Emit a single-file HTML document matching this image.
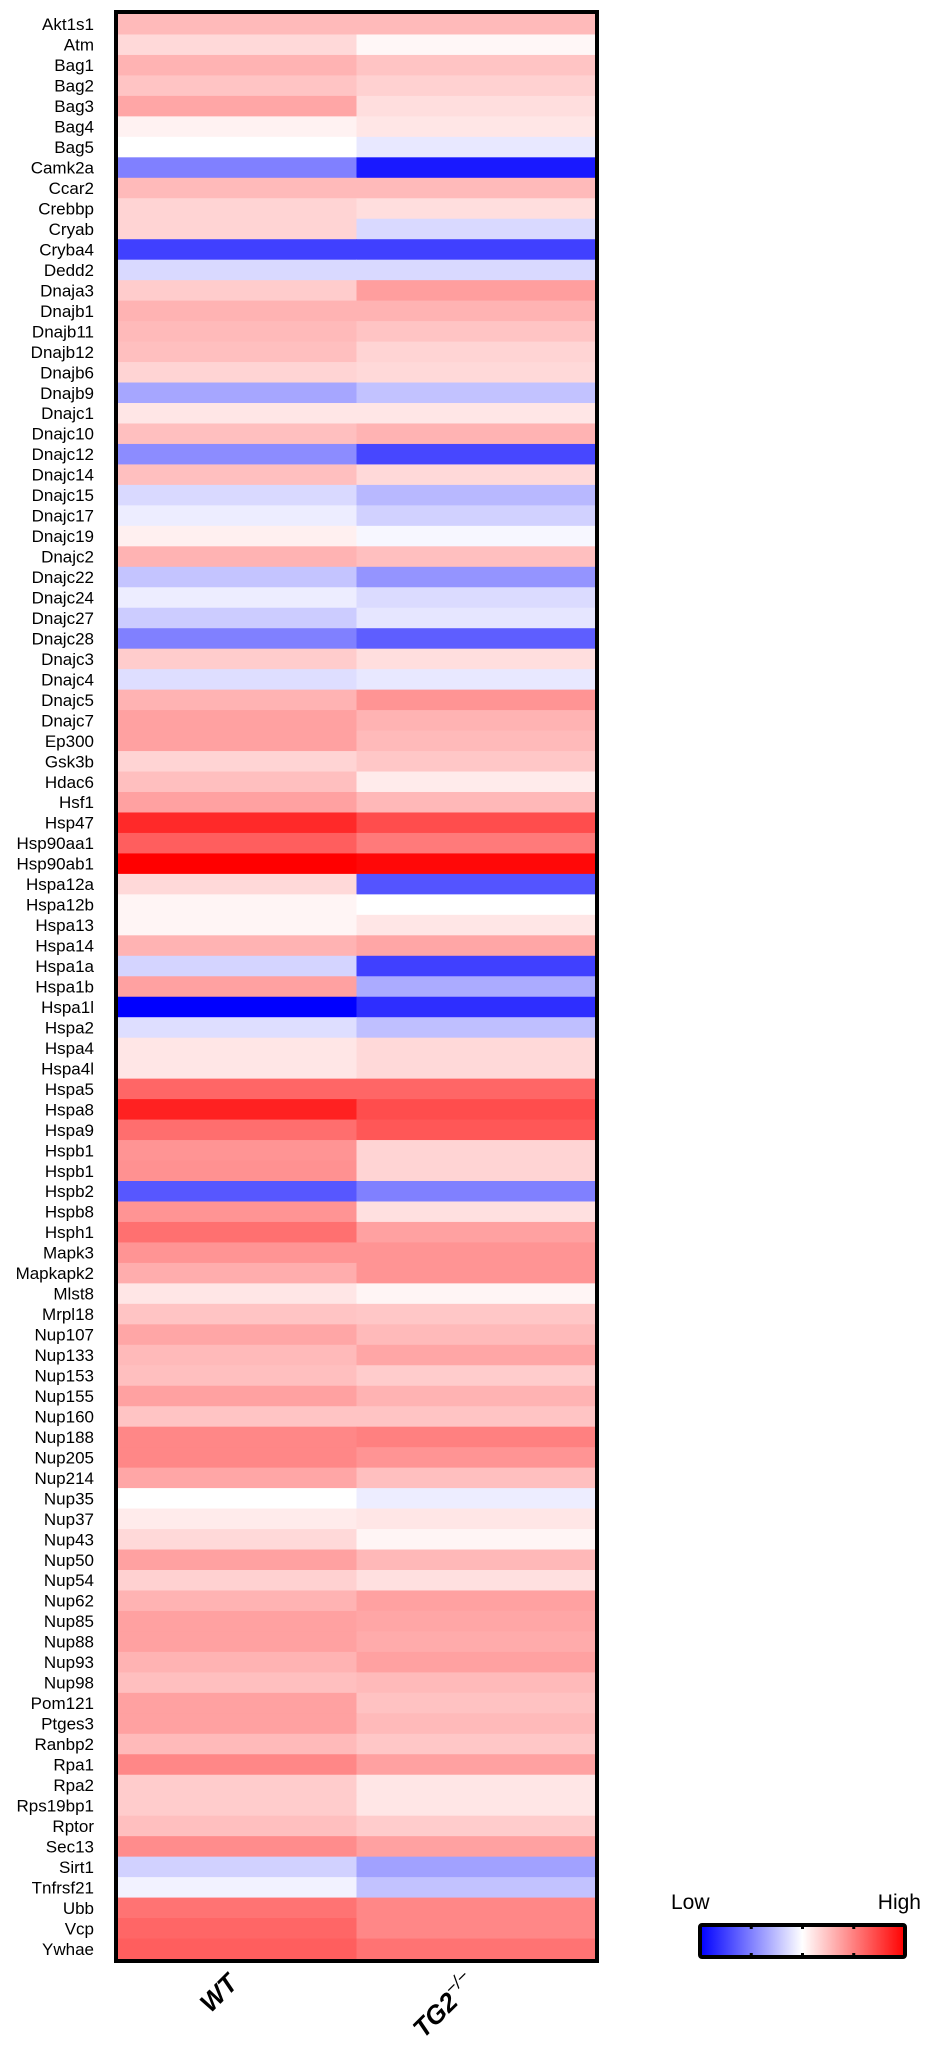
<!DOCTYPE html>
<html><head><meta charset="utf-8">
<style>
html,body{margin:0;padding:0;background:#fff;}
svg{display:block;font-family:"Liberation Sans",Arial,sans-serif;}
</style></head>
<body>
<svg id="chart" width="932" height="2054" viewBox="0 0 932 2054" xmlns="http://www.w3.org/2000/svg">
<defs>
<linearGradient id="cbar" x1="0" x2="1" y1="0" y2="0">
<stop offset="0" stop-color="#0000ff"/><stop offset="0.5" stop-color="#ffffff"/><stop offset="1" stop-color="#ff0000"/>
</linearGradient>
</defs>
<g id="cells"></g>
<g id="rowlabels"></g>
<rect x="116" y="12" width="481" height="1949" fill="none" stroke="#000" stroke-width="4"/>
<g id="collabels"></g>
<g>
<text x="671" y="1909" font-size="21">Low</text>
<text x="921" y="1909" font-size="21" text-anchor="end">High</text>
<rect x="700" y="1925" width="205" height="32" rx="2" fill="url(#cbar)" stroke="#000" stroke-width="4"/>
<g id="legticks"></g>
</g>
</svg>
<script>
const genes = ["Akt1s1","Atm","Bag1","Bag2","Bag3","Bag4","Bag5","Camk2a","Ccar2","Crebbp","Cryab","Cryba4","Dedd2","Dnaja3","Dnajb1","Dnajb11","Dnajb12","Dnajb6","Dnajb9","Dnajc1","Dnajc10","Dnajc12","Dnajc14","Dnajc15","Dnajc17","Dnajc19","Dnajc2","Dnajc22","Dnajc24","Dnajc27","Dnajc28","Dnajc3","Dnajc4","Dnajc5","Dnajc7","Ep300","Gsk3b","Hdac6","Hsf1","Hsp47","Hsp90aa1","Hsp90ab1","Hspa12a","Hspa12b","Hspa13","Hspa14","Hspa1a","Hspa1b","Hspa1l","Hspa2","Hspa4","Hspa4l","Hspa5","Hspa8","Hspa9","Hspb1","Hspb1","Hspb2","Hspb8","Hsph1","Mapk3","Mapkapk2","Mlst8","Mrpl18","Nup107","Nup133","Nup153","Nup155","Nup160","Nup188","Nup205","Nup214","Nup35","Nup37","Nup43","Nup50","Nup54","Nup62","Nup85","Nup88","Nup93","Nup98","Pom121","Ptges3","Ranbp2","Rpa1","Rpa2","Rps19bp1","Rptor","Sec13","Sirt1","Tnfrsf21","Ubb","Vcp","Ywhae"];
const samples = ["WT","TG2"];
const wtValues = [.27,.15,.3,.23,.35,.05,0,-.5,.27,.17,.17,-.75,-.15,.2,.3,.27,.25,.17,-.35,.1,.25,-.45,.25,-.15,-.07,.06,.3,-.23,-.07,-.2,-.5,.2,-.13,.3,.37,.37,.17,.25,.37,.84,.63,1,.15,.04,.04,.3,-.17,.37,-1,-.13,.1,.1,.6,.87,.57,.42,.43,-.66,.42,.56,.42,.32,.1,.23,.35,.27,.25,.37,.23,.47,.47,.35,0,.08,.15,.37,.18,.3,.37,.37,.3,.25,.37,.37,.27,.47,.2,.2,.25,.45,-.18,-.05,.55,.6,.63];
const tg2Values = [.27,.03,.23,.18,.13,.1,-.09,-.9,.27,.13,-.15,-.75,-.15,.38,.3,.23,.17,.15,-.24,.1,.3,-.72,.15,-.28,-.18,-.03,.25,-.42,-.14,-.1,-.63,.13,-.09,.42,.3,.27,.22,.08,.28,.7,.52,.97,-.67,0,.1,.35,-.75,-.33,-.82,-.25,.15,.15,.6,.7,.66,.17,.17,-.5,.12,.37,.42,.42,.04,.22,.27,.35,.2,.3,.23,.5,.42,.25,-.07,.1,.04,.28,.12,.37,.35,.33,.37,.27,.24,.27,.22,.37,.1,.1,.2,.37,-.37,-.24,.47,.47,.55];
const legendTicks = [0.25,0.5,0.75];

const NS = "http://www.w3.org/2000/svg";
const x0 = 118, x1 = 595, y0 = 14, y1 = 1959;
const rowH = (y1 - y0) / genes.length;
const colW = (x1 - x0) / samples.length;
function yScale(i){ return y0 + i * rowH; }
function xScale(j){ return x0 + j * colW; }
function color(v){
  v = Math.max(-1, Math.min(1, v));
  if (v >= 0){ const g = Math.round(255 * (1 - v)); return `rgb(255,${g},${g})`; }
  const g = Math.round(255 * (1 + v)); return `rgb(${g},${g},255)`;
}
const cells = document.getElementById('cells');
const rl = document.getElementById('rowlabels');
const series = [wtValues, tg2Values];
genes.forEach((g, i) => {
  series.forEach((vals, j) => {
    const r = document.createElementNS(NS, 'rect');
    r.setAttribute('x', xScale(j)); r.setAttribute('y', yScale(i));
    r.setAttribute('width', colW + 0.5); r.setAttribute('height', rowH + 0.5);
    r.setAttribute('fill', color(vals[i]));
    
    
    cells.appendChild(r);
  });
  const t = document.createElementNS(NS, 'text');
  t.setAttribute('x', 94); t.setAttribute('y', yScale(i) + rowH / 2 + 6);
  t.setAttribute('text-anchor', 'end'); t.setAttribute('font-size', '17');
  t.textContent = g;
  
  
  rl.appendChild(t);
});
const cl = document.getElementById('collabels');
samples.forEach((s, j) => {
  const cx = xScale(j) + colW / 2 + 2, cy = 1985;
  const t = document.createElementNS(NS, 'text');
  t.setAttribute('x', cx); t.setAttribute('y', cy);
  t.setAttribute('text-anchor', 'end'); t.setAttribute('font-size', '26');
  t.setAttribute('font-weight', 'bold'); t.setAttribute('font-style', 'italic');
  t.setAttribute('transform', `rotate(-45 ${cx} ${cy})`);
  t.textContent = s;
  if (s === 'TG2'){
    t.textContent = '';
    const a = document.createElementNS(NS, 'tspan'); a.textContent = 'TG2'; t.appendChild(a);
    const b = document.createElementNS(NS, 'tspan'); b.setAttribute('dy', '-11'); b.setAttribute('font-size', '18'); b.setAttribute('font-weight', 'normal'); b.textContent = '\u2212/\u2212'; t.appendChild(b);
  }
  
  
  cl.appendChild(t);
});
const lt = document.getElementById('legticks');
legendTicks.forEach(f => {
  const x = 700 + 205 * f;
  [1925, 1953].forEach(y => {
    const r = document.createElementNS(NS, 'rect');
    r.setAttribute('x', x - 1.5); r.setAttribute('y', y); r.setAttribute('width', 3); r.setAttribute('height', 4);
    r.setAttribute('fill', '#000');
    
    
    lt.appendChild(r);
  });
});
</script>
</body></html>
